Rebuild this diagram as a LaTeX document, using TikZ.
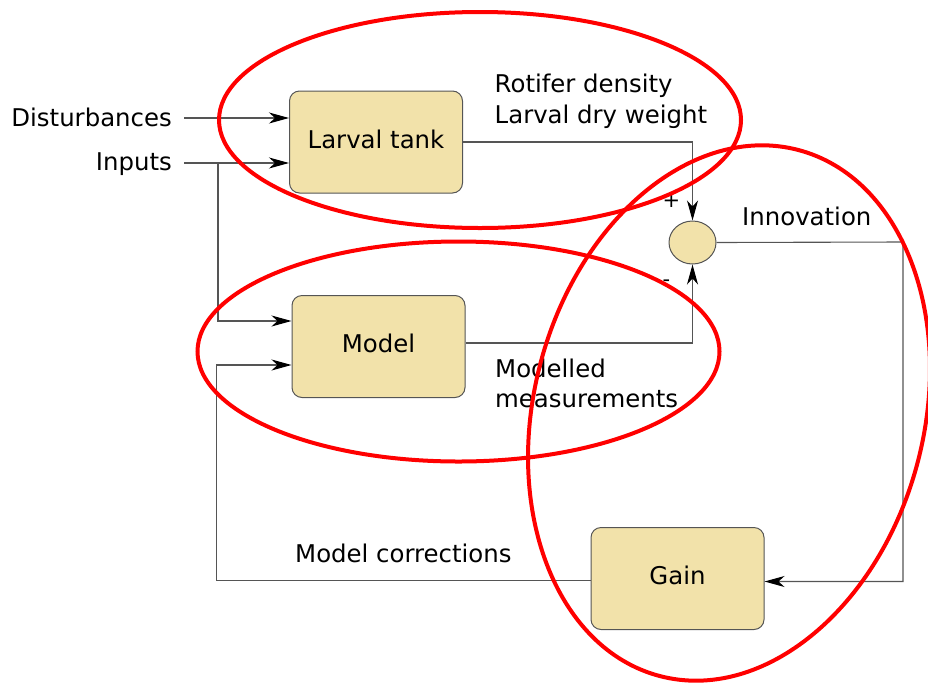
\documentclass[tikz,border=0pt]{standalone}
\usepackage{fontspec}
\setmainfont{DejaVu Sans}
\usetikzlibrary{arrows.meta,shapes.geometric}
\definecolor{boxfill}{HTML}{F2E2AA}
\definecolor{edge}{HTML}{555555}
\begin{document}
\begin{tikzpicture}[x=1pt,y=-1pt,
  font=\fontsize{24.4}{29}\selectfont,
  block/.style={draw=edge, line width=1pt, fill=boxfill, rounded corners=10pt,
    minimum width=173pt, minimum height=102pt, inner sep=0pt,
    text height=1.25em, text depth=0pt},
  sumnode/.style={ellipse, draw=edge, line width=1pt, fill=boxfill,
    minimum width=47pt, minimum height=43pt, inner sep=0pt},
  link/.style={draw=edge, line width=1.1pt},
  arr/.style={link, -{Stealth[length=20pt,width=11pt,inset=6pt,color=black]}},
  lab/.style={inner sep=0pt},
  sign/.style={inner sep=0pt, anchor=base, font=\fontsize{21}{25}\selectfont},
  ring/.style={draw=red, line width=4pt}]

\useasboundingbox (0,0) rectangle (928,683);

% blocks
\node[block] (tank)  at (376,142)     {Larval tank};
\node[block] (model) at (378.5,346.5) {Model};
\node[block] (gain)  at (677.5,578.5) {Gain};
\node[sumnode] (sum) at (692.5,242.5) {};

% labels
\node[lab, anchor=base east] (ldist) at (172,126) {Disturbances};
\node[lab, anchor=base east] (linp)  at (172,170) {Inputs};
\node[lab, anchor=base west] (lrot)  at (494.5,92)  {Rotifer density};
\node[lab, anchor=base west] (ldry)  at (494.5,123) {Larval dry weight};
\node[lab, anchor=base west] (lmod1) at (495,377) {Modelled};
\node[lab, anchor=base west] (lmod2) at (495,407) {measurements};
\node[lab, anchor=base west] (lcorr) at (295,562) {Model corrections};
\node[lab, anchor=base west] (linno) at (742,225) {Innovation};
\node[sign] (plus)  at (671.5,207) {+};
\node[sign] (minus) at (666.5,286) {-};

% free ends and corners
\coordinate (dstart) at (184,118);
\coordinate (istart) at (184,163);
\coordinate (split)  at (218,163);
\coordinate (corner) at (903,242);

% connectors
\draw[arr] (dstart) -- (dstart -| tank.west);
\draw[arr] (istart) -- (istart -| tank.west);
\draw[arr] (split) |- ([yshift=25.5pt]model.west);
\draw[arr] (tank.east) -| (sum.north);
\draw[arr] ([yshift=3.5pt]model.east) -| (sum.south);
\draw[arr] (sum.east) -- (corner) |- ([yshift=-3pt]gain.east);
\draw[arr] ([yshift=-2pt]gain.west) -- ++(-374,0) |- ([yshift=-18.5pt]model.west);

% highlight rings
\draw[ring] (480,120) ellipse [x radius=261pt, y radius=108pt];
\draw[ring] (458.5,351.5) ellipse [x radius=261pt, y radius=110pt];
\draw[ring, rotate around={-14.8:(729,413)}] (729,413) ellipse [x radius=195pt, y radius=272pt];
\end{tikzpicture}
\end{document}
